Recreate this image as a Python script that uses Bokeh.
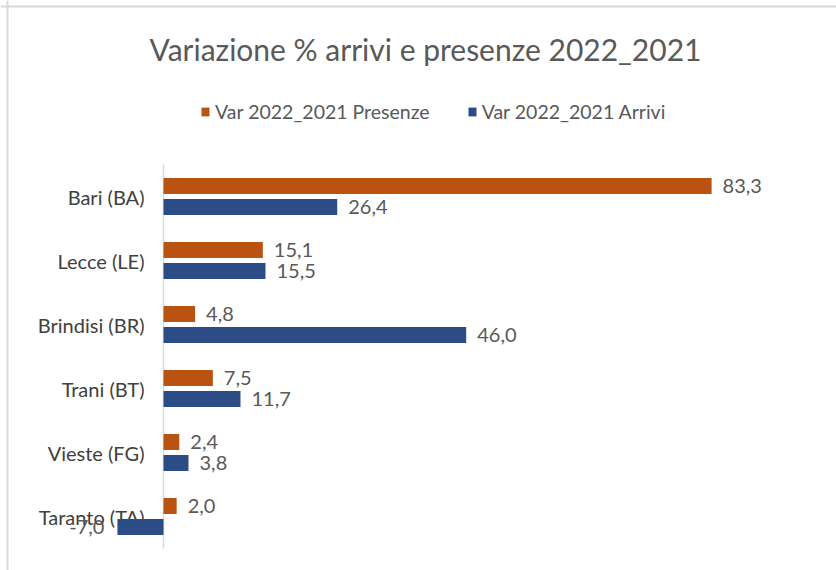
from bokeh.plotting import figure
from bokeh.models import ColumnDataSource, Range1d, Label, Legend, LegendItem, Span
from bokeh.core.properties import value
from bokeh.embed import file_html
from bokeh.resources import INLINE

# ---- data ----
categories = ["Bari (BA)", "Lecce (LE)", "Brindisi (BR)", "Trani (BT)", "Vieste (FG)", "Taranto (TA)"]
presenze = [83.3, 15.1, 4.8, 7.5, 2.4, 2.0]
arrivi = [26.4, 15.5, 46.0, 11.7, 3.8, -7.0]
series_names = ["Var 2022_2021 Presenze", "Var 2022_2021 Arrivi"]
title_text = "Variazione % arrivi e presenze 2022_2021"

# ---- style ----
ORANGE = "#BA5311"
BLUE = "#2C4C85"
TEXT = "#595959"
CAT_TEXT = "#404040"
FONT = "Lato"
W, H = 836, 570
PX_PER_UNIT = 6.58
ZERO_PX = 163
ROW_PX = 64
FIRST_ROW_PX = 196

x_range = Range1d(-ZERO_PX / PX_PER_UNIT, (W - ZERO_PX) / PX_PER_UNIT)
y_range = Range1d((H - FIRST_ROW_PX) / ROW_PX, -FIRST_ROW_PX / ROW_PX)

p = figure(width=W, height=H, x_range=x_range, y_range=y_range,
           output_backend="svg", toolbar_location=None,
           min_border=0, min_border_left=0, min_border_right=0,
           min_border_top=0, min_border_bottom=0)
p.axis.visible = False
p.xgrid.visible = False
p.ygrid.visible = False
p.outline_line_color = None
p.background_fill_color = "white"
p.border_fill_color = "white"

# chart border (left, top)
p.add_layout(Span(location=(7 - ZERO_PX) / PX_PER_UNIT, dimension="height",
                  line_color="#D9D9D9", line_width=2))
p.add_layout(Span(location=(6 - FIRST_ROW_PX) / ROW_PX, dimension="width",
                  line_color="#D9D9D9", line_width=2))

n = len(categories)
idx = list(range(n))
off = 0.165
bar_h = 0.25

# category labels
cat_src = ColumnDataSource(dict(y=idx, x=[0] * n, t=categories))
p.text(x="x", y="y", text="t", source=cat_src, x_offset=-19, text_align="right",
       text_baseline="middle", text_font=value(FONT), text_font_size="20px", text_color=CAT_TEXT)

# axis line at zero
p.segment(x0=0, y0=-0.5, x1=0, y1=n - 0.5, line_color="#D9D9D9", line_width=1.5)

def fmt(v):
    return f"{v:.1f}".replace(".", ",")

src_p = ColumnDataSource(dict(y=[i - off for i in idx], v=presenze,
                              lab=[fmt(v) for v in presenze],
                              align=["left" if v >= 0 else "right" for v in presenze],
                              xo=[11 if v >= 0 else -13 for v in presenze]))
src_a = ColumnDataSource(dict(y=[i + off for i in idx], v=arrivi,
                              lab=[fmt(v) for v in arrivi],
                              align=["left" if v >= 0 else "right" for v in arrivi],
                              xo=[11 if v >= 0 else -13 for v in arrivi]))

r_p = p.hbar(y="y", left=0, right="v", height=bar_h, source=src_p, fill_color=ORANGE, line_color=None)
r_a = p.hbar(y="y", left=0, right="v", height=bar_h, source=src_a, fill_color=BLUE, line_color=None)

for src in (src_p, src_a):
    p.text(x="v", y="y", text="lab", source=src, x_offset="xo", text_align="align",
           text_baseline="middle", text_font=value(FONT), text_font_size="20px", text_color=TEXT)

# title
p.add_layout(Label(x=425, y=H - 48, x_units="screen", y_units="screen", text=title_text,
                   text_align="center", text_baseline="alphabetic", text_font=FONT,
                   text_font_size="30px", text_color=TEXT))

legend = Legend(items=[LegendItem(label=series_names[0], renderers=[r_p]),
                       LegendItem(label=series_names[1], renderers=[r_a])],
                orientation="horizontal", location=(200, H - 123),
                border_line_color=None, background_fill_alpha=0,
                glyph_width=10, glyph_height=11, label_standoff=5, spacing=37,
                padding=0, margin=0, label_height=20,
                label_text_font=FONT, label_text_font_size="19.5px", label_text_color=TEXT)
p.add_layout(legend)

open("out.html", "w").write(file_html(p, INLINE))
